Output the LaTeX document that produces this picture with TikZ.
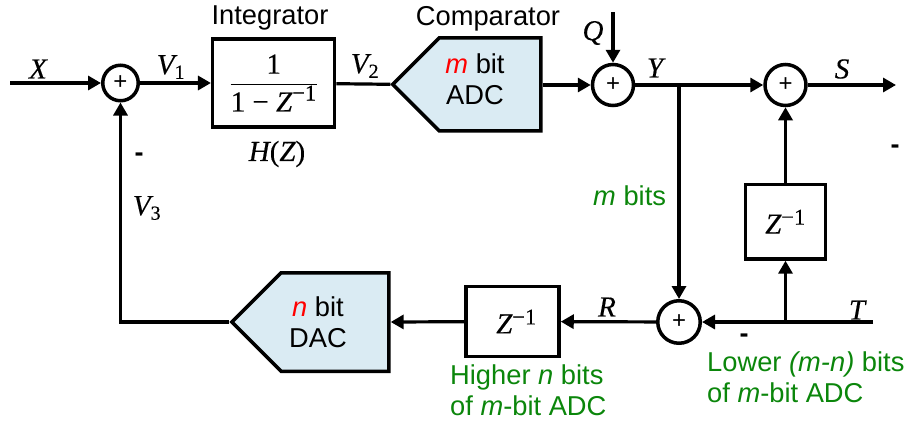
\documentclass[tikz,border=0pt]{standalone}
\usepackage{fontspec}
\setmainfont{Liberation Sans}
\newfontfamily\mfont[FakeBold=0.3]{Liberation Serif}
\newcommand{\mv}[1]{\mbox{\mfont\itshape #1}}
\newcommand{\mr}[1]{\mbox{\mfont #1}}
\newcommand{\ms}[1]{\mbox{\fontsize{20}{20}\selectfont\mfont #1}}
\newcommand{\mz}{\mbox{\fontsize{22.5}{22}\selectfont\mfont −1}}
\newcommand{\zinv}{\mv{Z}$^{\mz}$}
\usetikzlibrary{arrows.meta,shapes.symbols}
\definecolor{adcblue}{HTML}{DAEBF3}
\definecolor{labelgreen}{HTML}{0B860B}
\tikzset{
  base/.style={font=\fontsize{27.3}{31}\selectfont,inner sep=0pt,align=center},
  txt/.style={base},
  gtxt/.style={base,text=labelgreen,align=left,anchor=west},
  mth/.style={font=\fontsize{29}{31}\selectfont,inner sep=0pt},
  sumnode/.style={draw,circle,line width=3.5pt,fill=white,inner sep=0pt,minimum size=#1,font=\fontsize{24}{26}\selectfont},
  blockbox/.style={draw,rectangle,line width=3.5pt,fill=white,inner sep=0pt,font=\fontsize{29}{31}\selectfont},
  converter/.style={draw,signal,signal to=west,signal pointer angle=90,line width=3.5pt,fill=adcblue,inner sep=0pt,line join=miter,anchor=east},
  flow/.style={line width=3.2pt,-{Triangle[length=13pt,width=14pt]}},
  wire/.style={line width=3.2pt},
  minus/.style={base,font=\bfseries\fontsize{27}{31}\selectfont}
}
\begin{document}
\begin{tikzpicture}[x=1pt,y=-1pt]
\useasboundingbox (0,0) rectangle (907,423);
% blocks
\node[sumnode=35.5pt] (s1) at (120.5,83) {+};
\node[sumnode=41pt] (s2) at (613,85) {+};
\node[sumnode=41pt] (s3) at (785.5,85) {+};
\node[sumnode=42.5pt] (s4) at (679,322) {+};
\node[blockbox,minimum width=122pt,minimum height=88pt] (int) at (273.7,83) {$\displaystyle\frac{\mr{1}}{\mr{1 − }\mv{Z}^{\mz}}$};
\node[converter,minimum width=148pt,minimum height=93pt] (adc) at (542.5,84.3) {};
\node[converter,minimum width=157pt,minimum height=98.5pt] (dac) at (390.7,322) {};
\node[blockbox,minimum width=93pt,minimum height=70pt] (zl) at (512.5,321.5) {\hspace*{8pt}\zinv};
\node[blockbox,minimum width=80pt,minimum height=74.5pt] (zr) at (785.5,221.7) {\zinv};
% free ends
\coordinate (xin) at (10,83);
\coordinate (qin) at (613,12);
\coordinate (sout) at (896,85);
\coordinate (tin) at (873,322);
% connectors
\draw[flow] (xin) -- (s1);
\draw[flow] (s1) -- (int);
\draw[wire] (int) -- (adc.west);
\draw[flow] (adc.east |- s2) -- (s2);
\draw[flow] (qin) -- (s2);
\draw[flow] (s2) -- (s3);
\draw[flow] (s3) -- (sout);
\draw[flow] (s4 |- s2) -- (s4);
\draw[flow] (zr) -- (s3);
\draw[flow] (tin) -- (s4);
\draw[flow] (zr |- s4) -- (zr);
\draw[flow] (s4) -- (zl);
\draw[flow] (zl) -- (dac.east);
\draw[flow] (dac.west) -- (s1 |- dac.west) -- (s1);
% labels
\node[txt] (lint) at (270,18) {Integrator};
\node[txt] (lcmp) at (488,19) {Comparator};
\node[txt] (ladc) at (475,79) {\textit{\textcolor{red}{m}} bit\\ADC};
\node[txt] (ldac) at (318,322) {\textit{\textcolor{red}{n}} bit\\DAC};
\node[mth] (lx) at (38,69) {\mv{X}};
\node[mth] (lv1) at (171,67) {\mv{V}$_{\ms{1}}$};
\node[mth] (lv2) at (365,66) {\mv{V}$_{\ms{2}}$};
\node[mth] (lh) at (277,154) {\mv{H}\mr{(}\mv{Z}\mr{)}};
\node[mth] (lv3) at (147,208) {\mv{V}$_{\ms{3}}$};
\node[mth] (lq) at (593,33) {\mv{Q}};
\node[mth] (ly) at (655,68) {\mv{Y}};
\node[mth] (ls) at (842,69) {\mv{S}};
\node[mth] (lr) at (607,307) {\mv{R}};
\node[mth] (lt) at (857,310) {\mv{T}};
\node[minus] (m1) at (139,157) {-};
\node[minus] (m2) at (895,149) {-};
\node[minus] (m3) at (744,338) {-};
\node[gtxt] (lm) at (593,196) {\textit{m} bits};
\node[gtxt] (lhi) at (450,390) {Higher \textit{n} bits\\of \textit{m}-bit ADC};
\node[gtxt] (llo) at (707,377) {Lower \textit{(m-n)} bits\\of \textit{m}-bit ADC};
\end{tikzpicture}
\end{document}
